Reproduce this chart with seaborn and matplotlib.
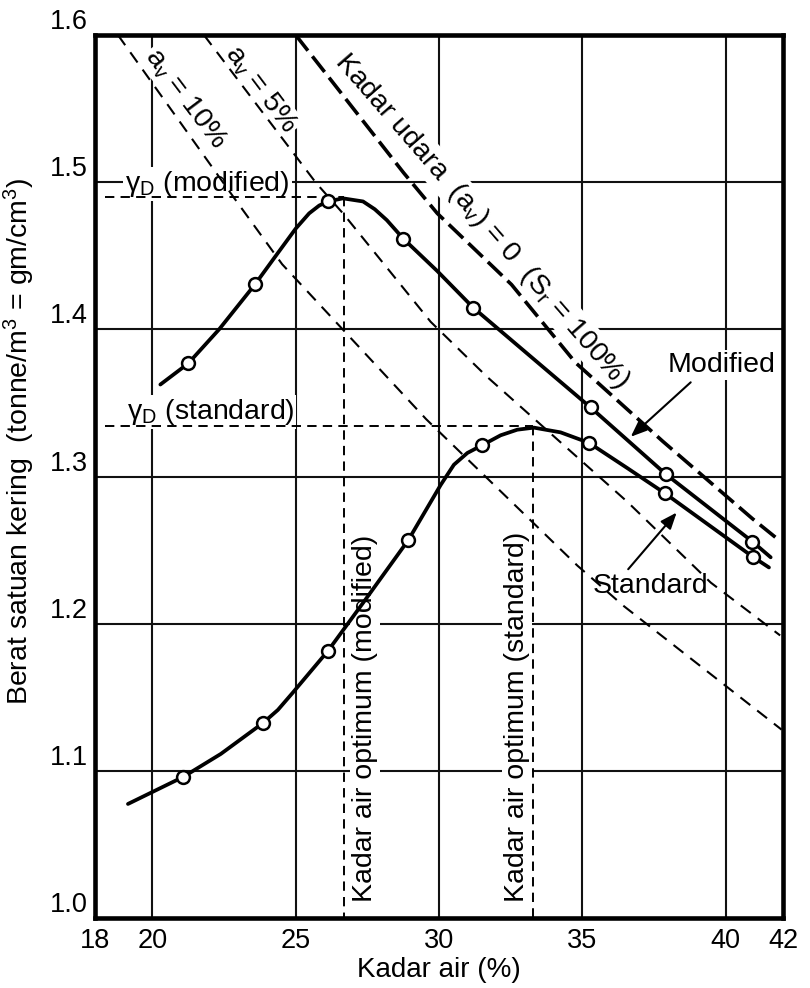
import numpy as np
import pandas as pd
import matplotlib
matplotlib.use("Agg")
import matplotlib.pyplot as plt
import seaborn as sns

# ---------------- data ----------------
# compaction curves (water content %, dry unit weight t/m3)
mod_curve_x = [20.28, 21.25, 22.33, 23.58, 24.29, 25.0, 25.47, 25.82, 26.12, 26.65, 27.35,
               27.76, 28.18, 28.76, 29.94, 31.19, 33.29, 35.29, 37.91, 40.93, 41.57]
mod_curve_y = [1.3625, 1.3768, 1.400, 1.4305, 1.4495, 1.4684, 1.4788, 1.4841, 1.4869, 1.489, 1.4869,
               1.4816, 1.4742, 1.4615, 1.4396, 1.4148, 1.380, 1.3469, 1.3016, 1.2558, 1.2451]
mod_pts_x = [21.25, 23.58, 26.12, 28.76, 31.19, 35.29, 37.91, 40.93]
mod_pts_y = [1.3768, 1.4305, 1.4869, 1.4615, 1.4148, 1.3469, 1.3016, 1.2558]

std_curve_x = [19.15, 21.08, 22.39, 23.86, 24.38, 24.89, 26.13, 27.38, 28.93, 30.06, 30.52,
               30.99, 31.51, 32.15, 32.73, 33.31, 34.24, 35.23, 36.57, 37.88, 40.97, 41.51]
std_curve_y = [1.0775, 1.0959, 1.1115, 1.1325, 1.1414, 1.1529, 1.1816, 1.2149, 1.2568, 1.2943, 1.308,
               1.316, 1.3213, 1.328, 1.3318, 1.3332, 1.330, 1.3229, 1.3057, 1.2886, 1.2451, 1.2382]
std_pts_x = [21.08, 23.86, 26.13, 28.93, 31.51, 35.23, 37.88, 40.97]
std_pts_y = [1.0959, 1.1325, 1.1816, 1.2568, 1.3213, 1.3229, 1.2886, 1.2451]

# air-void lines
zav_x = [25.0, 28.76, 29.94, 32.53, 34.76, 37.8, 40.93, 41.8]
zav_y = [1.600, 1.5065, 1.4788, 1.4304, 1.3774, 1.324, 1.2714, 1.2577]
av5_x = [21.8, 25.71, 26.65, 29.71, 31.69, 36.57, 39.48, 41.9]
av5_y = [1.600, 1.4995, 1.4788, 1.4051, 1.3675, 1.2828, 1.2279, 1.192]
av10_x = [18.8, 22.9, 24.53, 29.55, 34.83, 36.45, 41.95]
av10_y = [1.600, 1.488, 1.4442, 1.339, 1.2394, 1.2119, 1.128]

# optimum values
gd_mod, omc_mod = 1.490, 26.67
gd_std, omc_std = 1.334, 33.28
ref_left = 18.35

# axes
x_ticks = [18, 20, 25, 30, 35, 40, 42]
y_ticks = [1.0, 1.1, 1.2, 1.3, 1.4, 1.5, 1.6]
y_tick_labels = ["1.0", "1.1", "1.2", "1.3", "1.4", "1.5", "1.6"]

# ---------------- style ----------------
sns.set_style("white")
plt.rcParams["font.family"] = ["Liberation Sans", "DejaVu Sans"]
plt.rcParams["mathtext.fontset"] = "custom"
plt.rcParams["mathtext.rm"] = "Liberation Sans"
plt.rcParams["mathtext.it"] = "Liberation Sans:italic"
for key in ["text.color", "axes.labelcolor", "xtick.color", "ytick.color"]:
    plt.rcParams[key] = "black"

fig = plt.figure(figsize=(8.1, 9.88), dpi=100)
ax = fig.add_axes([95 / 810, 1 - 918 / 988, 688 / 810, 883 / 988])
ax.set_xlim(18, 42)
ax.set_ylim(1.0, 1.6)

# grid
for gx in x_ticks[1:-1]:
    ax.axvline(gx, color="#111111", lw=1.5, zorder=0.5)
for gy in y_ticks[1:-1]:
    ax.axhline(gy, color="#111111", lw=1.5, zorder=0.5)

box = dict(facecolor="white", edgecolor="none", pad=1.5)

# air-void dashed lines
sns.lineplot(x=zav_x, y=zav_y, sort=False, estimator=None, ax=ax, color="black", lw=2.6, zorder=3)
ax.lines[-1].set_dashes((5.5, 2.0))
sns.lineplot(x=av5_x, y=av5_y, sort=False, estimator=None, ax=ax, color="black", lw=1.5, zorder=3)
ax.lines[-1].set_dashes((6.0, 4.2))
sns.lineplot(x=av10_x, y=av10_y, sort=False, estimator=None, ax=ax, color="black", lw=1.5, zorder=3)
ax.lines[-1].set_dashes((6.0, 4.2))

# optimum reference lines
opt = dict(color="black", lw=1.4, zorder=3)
sns.lineplot(x=[ref_left, omc_mod], y=[gd_mod, gd_mod], ax=ax, **opt)
ax.lines[-1].set_dashes((4.8, 3.2))
sns.lineplot(x=[omc_mod, omc_mod], y=[gd_mod, 1.0], sort=False, estimator=None, ax=ax, **opt)
ax.lines[-1].set_dashes((4.8, 3.2))
sns.lineplot(x=[ref_left, omc_std], y=[gd_std, gd_std], ax=ax, **opt)
ax.lines[-1].set_dashes((4.8, 3.2))
sns.lineplot(x=[omc_std, omc_std], y=[gd_std, 1.0], sort=False, estimator=None, ax=ax, **opt)
ax.lines[-1].set_dashes((4.8, 3.2))

# compaction curves
sns.lineplot(x=mod_curve_x, y=mod_curve_y, sort=False, estimator=None, ax=ax,
             color="black", lw=2.7, zorder=4)
ax.lines[-1].set_solid_joinstyle("round")
sns.lineplot(x=std_curve_x, y=std_curve_y, sort=False, estimator=None, ax=ax,
             color="black", lw=2.7, zorder=4)
ax.lines[-1].set_solid_joinstyle("round")
sns.scatterplot(x=mod_pts_x, y=mod_pts_y, ax=ax, marker="o", s=85, color="white",
                edgecolor="black", linewidth=1.8, zorder=5)
sns.scatterplot(x=std_pts_x, y=std_pts_y, ax=ax, marker="o", s=85, color="white",
                edgecolor="black", linewidth=1.8, zorder=5)

# labels on the chart
fs = 20.5
ax.text(21.16, 1.557, "a$_\\mathrm{v}$ = 10%", rotation=-53, ha="center", va="center",
        rotation_mode="anchor", fontsize=fs, bbox=box, zorder=2)
ax.text(23.78, 1.563, "a$_\\mathrm{v}$ = 5%", rotation=-53, ha="center", va="center",
        rotation_mode="anchor", fontsize=fs, bbox=box, zorder=2)
ax.text(31.5, 1.474, "Kadar udara  (a$_\\mathrm{v}$) = 0  (S$_\\mathrm{r}$ = 100%)", rotation=-49,
        ha="center", va="center", rotation_mode="anchor", fontsize=fs, bbox=box, zorder=2)
ax.text(19.05, 1.499, "γ$_\\mathrm{D}$ (modified)", ha="left", va="center", fontsize=fs,
        bbox=box, zorder=2)
ax.text(19.1, 1.344, "γ$_\\mathrm{D}$ (standard)", ha="left", va="center", fontsize=fs,
        bbox=box, zorder=2)
ax.text(27.41, 1.011, "Kadar air optimum (modified)", rotation=90, ha="center", va="bottom",
        fontsize=fs, bbox=box, zorder=2)
ax.text(32.71, 1.011, "Kadar air optimum (standard)", rotation=90, ha="center", va="bottom",
        fontsize=fs, bbox=box, zorder=2)
ax.text(39.87, 1.376, "Modified", ha="center", va="center", fontsize=fs, bbox=box, zorder=2)
ax.text(37.36, 1.2256, "Standard", ha="center", va="center", fontsize=fs, bbox=box, zorder=2)

arrow = dict(arrowstyle="-|>,head_length=0.45,head_width=0.18", color="black", lw=1.5,
             mutation_scale=22, shrinkA=0, shrinkB=0)
ax.annotate("", xy=(36.69, 1.327), xytext=(38.78, 1.364), arrowprops=arrow, zorder=6)
ax.annotate("", xy=(38.29, 1.2755), xytext=(36.6, 1.237), arrowprops=arrow, zorder=6)

# axes cosmetics
ax.set_xticks(x_ticks)
ax.set_xticklabels([str(t) for t in x_ticks])
ax.set_yticks(y_ticks)
ax.set_yticklabels(y_tick_labels)
ax.tick_params(length=0, labelsize=19.5)
ax.tick_params(axis="x", pad=7)
ax.tick_params(axis="y", pad=5)
for lab in ax.get_yticklabels():
    lab.set_verticalalignment("bottom")
for sp in ax.spines.values():
    sp.set_visible(True)
    sp.set_linewidth(3.3)
    sp.set_color("black")
    sp.set_zorder(7)

ax.set_xlabel("Kadar air (%)", fontsize=20, labelpad=2)
ax.set_ylabel("Berat satuan kering  (tonne/m$^3$ = gm/cm$^3$)", fontsize=20.5)
ax.yaxis.set_label_coords(-0.085, 0.54)

fig.savefig("out.png", dpi=100, facecolor="white")
